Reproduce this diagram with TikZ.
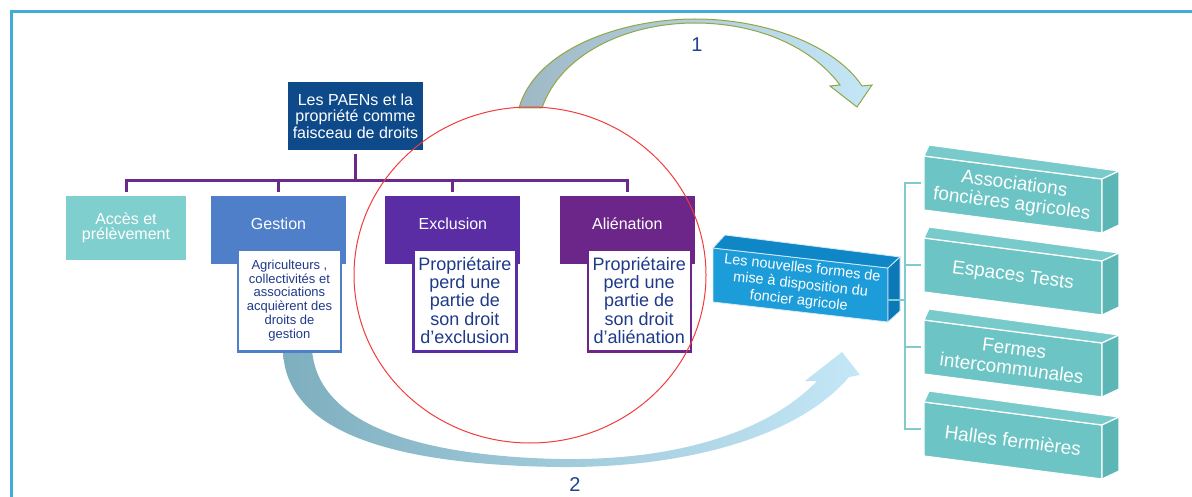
\documentclass[tikz,border=0pt]{standalone}
\usepackage{fontspec}
\setmainfont{Liberation Sans}
\usepackage{tikz}
\usetikzlibrary{positioning,calc}

\definecolor{framecyan}{HTML}{3FADD8}
\definecolor{paenblue}{HTML}{0E4A8A}
\definecolor{treepurple}{HTML}{6A2A8C}
\definecolor{accesteal}{HTML}{7FCFCF}
\definecolor{gestblue}{HTML}{4F7FC8}
\definecolor{exclviolet}{HTML}{5A2DA4}
\definecolor{alienpurple}{HTML}{6C2588}
\definecolor{subnavy}{HTML}{1F3A8A}
\definecolor{ringred}{HTML}{F03C3C}
\definecolor{arrowgrey}{HTML}{9FB8C6}
\definecolor{arrowsky}{HTML}{C4E7F7}
\definecolor{arrowolive}{HTML}{93A646}
\definecolor{arrowteal}{HTML}{7EAFBF}
\definecolor{nfblue}{HTML}{1C9CD8}
\definecolor{nftopcol}{HTML}{0F86C6}
\definecolor{nfsidecol}{HTML}{0C78B8}
\definecolor{tealfront}{HTML}{6CC4C4}
\definecolor{tealtop}{HTML}{79CBCB}
\definecolor{tealside}{HTML}{5DB6B6}
\definecolor{bracketteal}{HTML}{80CBCB}
\definecolor{numblue}{HTML}{1F4490}

\begin{document}
\begin{tikzpicture}[x=1pt, y=-1pt]
\tikzstyle{frame} = [draw=framecyan, line width=3pt]
\tikzstyle{paenbox} = [fill=paenblue, text=white, minimum width=135pt,
  minimum height=68pt, inner sep=0pt, align=center,
  font=\fontsize{16}{16.5}\selectfont]
\tikzstyle{accbox} = [fill=accesteal, text=white, minimum width=120pt,
  minimum height=64pt, inner sep=0pt, align=center,
  font=\fontsize{16}{15.5}\selectfont]
\tikzstyle{catbox} = [text=white, minimum width=135pt, text height=34pt,
  text depth=34pt, inner ysep=0pt, font=\fontsize{16}{18}\selectfont]
\tikzstyle{subbox} = [fill=white, line width=2.5pt, text=subnavy,
  minimum width=103pt, minimum height=102pt, inner sep=1pt, align=center,
  anchor=north east]
\tikzstyle{tree} = [draw=treepurple, line width=3pt]
\tikzstyle{ring} = [draw=ringred, line width=1pt]
\tikzstyle{num} = [text=numblue, font=\fontsize{20}{20}\selectfont]
\tikzstyle{nfface} = [draw=white!80!nfblue, line width=0.8pt]
\tikzstyle{nftext} = [text=white, align=center, rotate=-6.5,
  font=\fontsize{14.5}{16.5}\selectfont]
\tikzstyle{tface} = [draw=white, line width=1.2pt]
\tikzstyle{ttext} = [text=white, align=center, rotate=-7.4,
  font=\fontsize{19}{20}\selectfont]
\tikzstyle{bracket} = [draw=bracketteal, line width=1.5pt]

\useasboundingbox (0,0) rectangle (1192,497);
\draw[frame] (11,497) -- (11,12) -- (1192,12);

\shadedraw[left color=arrowgrey, right color=arrowsky, draw=arrowolive,
  line width=1pt]
  (519,108) .. controls (535,50) and (620,19) .. (695,19)
  .. controls (765,19) and (835,45) .. (862,86) -- (872,85) -- (857,107)
  -- (830,86) -- (840,85) .. controls (810,45) and (755,23) .. (695,23)
  .. controls (625,23) and (560,55) .. (542,108) -- cycle;
\shade[left color=arrowteal, right color=arrowsky]
  (312,350) .. controls (318,425) and (420,456) .. (560,459)
  .. controls (680,461) and (770,430) .. (817,381) -- (805,381)
  -- (842,352) -- (860,375) -- (849,377)
  .. controls (800,435) and (690,468) .. (560,467)
  .. controls (400,465) and (285,435) .. (283,350) -- cycle;
\node[num] (one) at (697,45) {1};
\node[num] (two) at (575,485) {2};

\node[paenbox] (paen) at (355.5,116)
  {Les PAENs et la\\propriété comme\\faisceau de droits};
\node[accbox] (acces) at (126,228) {Accès et\\prélèvement};
\node[catbox, fill=gestblue] (gestion) at (278.5,230) {Gestion};
\node[catbox, fill=exclviolet, right=39pt of gestion] (exclusion) {Exclusion};
\node[catbox, fill=alienpurple, right=39pt of exclusion] (alienation)
  {Aliénation};

\node[subbox, draw=gestblue, font=\fontsize{13}{13.8}\selectfont] (gestsub)
  at ([shift={(-4pt,16pt)}]gestion.south east)
  {Agriculteurs ,\\collectivités et\\associations\\acquièrent des\\droits
  de\\gestion};
\node[subbox, draw=exclviolet, font=\fontsize{18}{18.3}\selectfont] (exclsub)
  at ([shift={(-3pt,16pt)}]exclusion.south east)
  {Propriétaire\\perd une\\partie de\\son droit\\d’exclusion};
\node[subbox, draw=alienpurple, font=\fontsize{18}{18.3}\selectfont] (aliensub)
  at ([shift={(-3pt,16pt)}]alienation.south east)
  {Propriétaire\\perd une\\partie de\\son droit\\d’aliénation};

\coordinate (bus) at (0,181);
\draw[tree, shorten <=4pt] (paen.south) -- (paen.south |- bus);
\draw[tree, shorten <=4pt, shorten >=4pt] (acces.north) -- (acces.north |- bus)
  -- (alienation.north |- bus) -- (alienation.north);
\draw[tree, shorten >=4pt] (gestion.north |- bus) -- (gestion.north);
\draw[tree, shorten >=4pt] (exclusion.north |- bus) -- (exclusion.north);

\coordinate (nf) at (713,248);
\coordinate (nftr) at (888,268);
\filldraw[nfface, fill=nfblue] (nf) -- (nftr) -- ++(0,54) -- ++(-175,-20)
  -- cycle;
\filldraw[nfface, fill=nftopcol] (nf) -- ++(12,-13) -- ++(175,22) -- (nftr)
  -- cycle;
\filldraw[nfface, fill=nfsidecol] (nftr) -- ++(12,-11) -- ++(0,54)
  -- ++(-12,11) -- cycle;
\node[nftext] (nouv) at (800.5,285)
  {Les nouvelles formes de\\mise à disposition du\\foncier agricole};

\coordinate (afa) at (924,156);
\filldraw[tface, fill=tealfront] (afa) -- ++(178,23) -- ++(0,54)
  -- ++(-178,-23) -- cycle;
\filldraw[tface, fill=tealtop] (afa) -- ++(5,-11) -- ++(190,26) -- ++(-17,8)
  -- cycle;
\filldraw[tface, fill=tealside] (afa) ++(178,23) -- ++(17,-8) -- ++(0,54)
  -- ++(-17,8) -- cycle;
\node[ttext] (afatxt) at (1013,194.5) {Associations\\foncières agricoles};

\coordinate (est) at (924,238);
\filldraw[tface, fill=tealfront] (est) -- ++(178,23) -- ++(0,54)
  -- ++(-178,-23) -- cycle;
\filldraw[tface, fill=tealtop] (est) -- ++(5,-11) -- ++(190,26) -- ++(-17,8)
  -- cycle;
\filldraw[tface, fill=tealside] (est) ++(178,23) -- ++(17,-8) -- ++(0,54)
  -- ++(-17,8) -- cycle;
\node[ttext] (esttxt) at (1013,276.5) {Espaces Tests};

\coordinate (fic) at (924,320);
\filldraw[tface, fill=tealfront] (fic) -- ++(178,23) -- ++(0,54)
  -- ++(-178,-23) -- cycle;
\filldraw[tface, fill=tealtop] (fic) -- ++(5,-11) -- ++(190,26) -- ++(-17,8)
  -- cycle;
\filldraw[tface, fill=tealside] (fic) ++(178,23) -- ++(17,-8) -- ++(0,54)
  -- ++(-17,8) -- cycle;
\node[ttext] (fictxt) at (1013,358.5) {Fermes\\intercommunales};

\coordinate (hal) at (924,402);
\filldraw[tface, fill=tealfront] (hal) -- ++(178,23) -- ++(0,54)
  -- ++(-178,-23) -- cycle;
\filldraw[tface, fill=tealtop] (hal) -- ++(5,-11) -- ++(190,26) -- ++(-17,8)
  -- cycle;
\filldraw[tface, fill=tealside] (hal) ++(178,23) -- ++(17,-8) -- ++(0,54)
  -- ++(-17,8) -- cycle;
\node[ttext] (haltxt) at (1013,440.5) {Halles fermières};

\coordinate (brk) at (905,0);
\coordinate (afaw) at (921,183);
\coordinate (estw) at (921,265);
\coordinate (ficw) at (921,347);
\coordinate (halw) at (921,429);
\coordinate (nfedge) at (888,300);
\draw[bracket] (afaw) -- (afaw -| brk) -- (halw -| brk) -- (halw);
\draw[bracket] (estw) -- (estw -| brk);
\draw[bracket] (ficw) -- (ficw -| brk);
\draw[bracket] (nfedge) -- (nfedge -| brk);

\draw[ring] (530,275) ellipse [x radius=176pt, y radius=168pt];
\end{tikzpicture}
\end{document}
